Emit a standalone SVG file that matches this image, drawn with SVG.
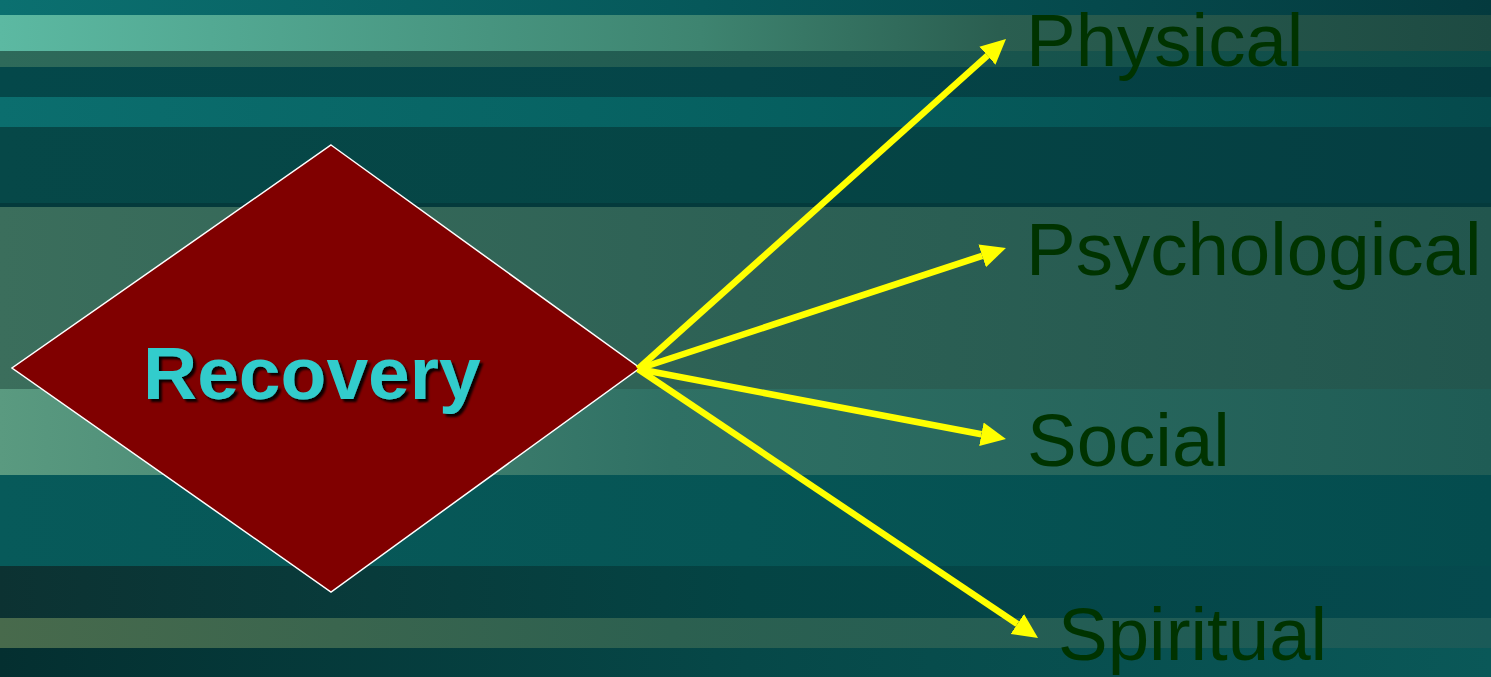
<svg xmlns="http://www.w3.org/2000/svg" width="1491" height="677" viewBox="0 0 1491 677">
  <style>
    .label { font-family: "Liberation Sans", Arial, sans-serif; font-size: 74.5px; fill: #003300; }
    .title { font-family: "Liberation Sans", Arial, sans-serif; font-size: 75px; font-weight: bold; fill: #33cccc; }
    .arrow { stroke: #ffff00; stroke-width: 6.5; fill: none; marker-end: url(#head); }
  </style>
  <defs>
    <marker id="head" markerUnits="userSpaceOnUse" markerWidth="26" markerHeight="26" viewBox="0 -13 26 26" refX="0" refY="0" orient="auto">
      <path d="M0,-12 L25,0 L0,12 Z" fill="#ffff00"/>
    </marker>
    <filter id="shadow" x="-5%" y="-20%" width="115%" height="150%">
      <feDropShadow dx="3" dy="3" stdDeviation="1" flood-color="#000000" flood-opacity="0.9"/>
    </filter>
    <linearGradient id="b1" x1="0" x2="1"><stop offset="0" stop-color="#0b7070"/><stop offset="0.47" stop-color="#06585a"/><stop offset="1" stop-color="#043a3e"/></linearGradient>
    <linearGradient id="b2" x1="0" x2="1"><stop offset="0" stop-color="#5cb9a2"/><stop offset="0.47" stop-color="#3e8470"/><stop offset="0.67" stop-color="#2a5e50"/><stop offset="1" stop-color="#1d4a42"/></linearGradient>
    <linearGradient id="b3" x1="0" x2="1"><stop offset="0" stop-color="#2e6a5a"/><stop offset="0.5" stop-color="#205a50"/><stop offset="1" stop-color="#0a4a48"/></linearGradient>
    <linearGradient id="b4" x1="0" x2="1"><stop offset="0" stop-color="#04484a"/><stop offset="0.5" stop-color="#054548"/><stop offset="1" stop-color="#043c40"/></linearGradient>
    <linearGradient id="b5" x1="0" x2="1"><stop offset="0" stop-color="#0b6e6e"/><stop offset="0.5" stop-color="#066060"/><stop offset="1" stop-color="#054a4c"/></linearGradient>
    <linearGradient id="b6" x1="0" x2="1"><stop offset="0" stop-color="#064848"/><stop offset="0.5" stop-color="#054545"/><stop offset="1" stop-color="#053e42"/></linearGradient>
    <linearGradient id="b8" x1="0" x2="1"><stop offset="0" stop-color="#3b6e5c"/><stop offset="0.5" stop-color="#2d6155"/><stop offset="1" stop-color="#22564e"/></linearGradient>
    <linearGradient id="b9" x1="0" x2="1"><stop offset="0" stop-color="#5a9a80"/><stop offset="0.45" stop-color="#2f7064"/><stop offset="1" stop-color="#1f5c55"/></linearGradient>
    <linearGradient id="b10" x1="0" x2="1"><stop offset="0" stop-color="#075a5a"/><stop offset="0.5" stop-color="#065555"/><stop offset="1" stop-color="#044c4e"/></linearGradient>
    <linearGradient id="b11" x1="0" x2="1"><stop offset="0" stop-color="#0c3232"/><stop offset="0.5" stop-color="#044444"/><stop offset="1" stop-color="#054a4e"/></linearGradient>
    <linearGradient id="b12" x1="0" x2="1"><stop offset="0" stop-color="#486a4c"/><stop offset="0.45" stop-color="#2c6050"/><stop offset="1" stop-color="#1a5a58"/></linearGradient>
    <linearGradient id="b13" x1="0" x2="1"><stop offset="0" stop-color="#042f30"/><stop offset="0.5" stop-color="#064848"/><stop offset="1" stop-color="#0a5858"/></linearGradient>
  </defs>

  <!-- striped background -->
  <g id="background">
    <rect x="0" y="0" width="1491" height="15" fill="url(#b1)"/>
    <rect x="0" y="15" width="1491" height="36" fill="url(#b2)"/>
    <rect x="0" y="51" width="1491" height="16" fill="url(#b3)"/>
    <rect x="0" y="67" width="1491" height="30" fill="url(#b4)"/>
    <rect x="0" y="97" width="1491" height="30" fill="url(#b5)"/>
    <rect x="0" y="127" width="1491" height="76" fill="url(#b6)"/>
    <rect x="0" y="203" width="1491" height="4" fill="#043a3c"/>
    <rect x="0" y="207" width="1491" height="182" fill="url(#b8)"/>
    <rect x="0" y="389" width="1491" height="86" fill="url(#b9)"/>
    <rect x="0" y="475" width="1491" height="91" fill="url(#b10)"/>
    <rect x="0" y="566" width="1491" height="52" fill="url(#b11)"/>
    <rect x="0" y="618" width="1491" height="30" fill="url(#b12)"/>
    <rect x="0" y="648" width="1491" height="29" fill="url(#b13)"/>
  </g>

  <!-- central decision node -->
  <g id="node-recovery">
    <polygon points="331,145 640,368 331,592 12,368" fill="#800000" stroke="#ffffff" stroke-width="1.5"/>
    <text class="title" x="143" y="399" filter="url(#shadow)">Recovery</text>
  </g>

  <!-- connectors -->
  <g id="connectors">
    <line class="arrow" x1="638" y1="369" x2="987.4" y2="55.7"/>
    <line class="arrow" x1="638" y1="369" x2="982.2" y2="255.8"/>
    <line class="arrow" x1="638" y1="369" x2="981.4" y2="434.3"/>
    <line class="arrow" x1="638" y1="369" x2="1017.3" y2="624"/>
  </g>

  <!-- outcome labels -->
  <g id="node-physical"><text class="label" x="1026" y="66">Physical</text></g>
  <g id="node-psychological"><text class="label" x="1026" y="275">Psychological</text></g>
  <g id="node-social"><text class="label" x="1027" y="466">Social</text></g>
  <g id="node-spiritual"><text class="label" x="1058" y="660">Spiritual</text></g>
</svg>
